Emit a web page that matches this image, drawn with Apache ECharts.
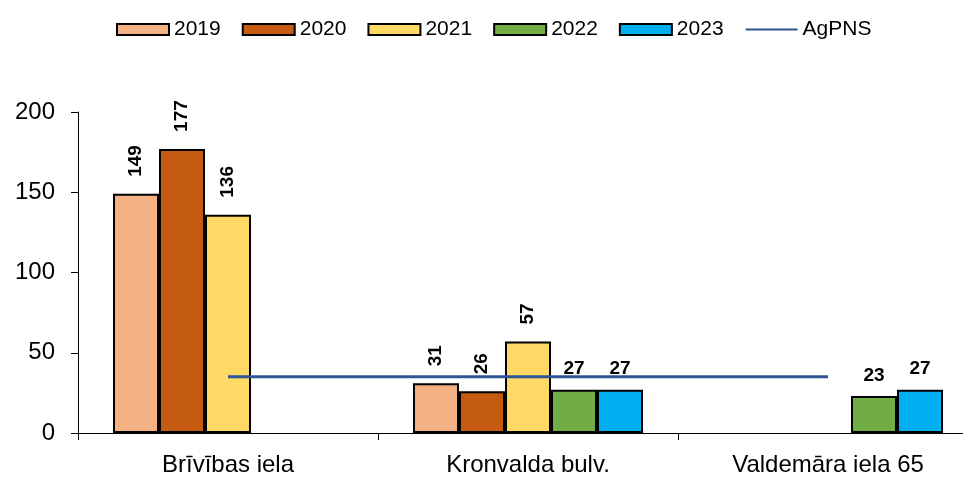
<!DOCTYPE html>
<html>
<head>
<meta charset="utf-8">
<script src="https://cdn.jsdelivr.net/npm/echarts@6/dist/echarts.min.js"></script>
<style>
  html, body { margin: 0; padding: 0; background: #fff; overflow: hidden; }
  /* the original plot area runs a little past the right edge, so the chart is wider than the window */
  #chart { width: 978px; height: 477px; }
</style>
</head>
<body>
<div id="chart"></div>
<script>
var categories = ["Brīvības iela", "Kronvalda bulv.", "Valdemāra iela 65"];
var y2019 = [149, 31, null];
var y2020 = [177, 26, null];
var y2021 = [136, 57, null];
var y2022 = [null, 27, 23];
var y2023 = [null, 27, 27];
var agpns = [35, 35, 35];
var yTicks = { min: 0, max: 200, interval: 50 };

var font = "Liberation Sans, Arial, sans-serif";

// rotated labels for the first three years, flat ones for the last two
function barSeries(name, data, color, rotated) {
  var label = {
    show: true,
    position: "top",
    fontFamily: font,
    fontSize: 19,
    fontWeight: "bold",
    color: "#000"
  };
  if (rotated) {
    label.rotate = 90;
    label.align = "left";
    label.verticalAlign = "middle";
    label.distance = 17;
  } else {
    label.distance = 11;
  }
  return {
    name: name,
    type: "bar",
    data: data,
    barWidth: 46,
    barGap: "0%",
    itemStyle: { color: color, borderColor: "#000", borderWidth: 2 },
    label: label
  };
}

var chart = echarts.init(document.getElementById("chart"));
var option = {
  animation: false,
  textStyle: { fontFamily: font },
  legend: {
    left: 111,
    top: 14,
    itemWidth: 52,
    itemHeight: 11,
    itemGap: 21,
    textStyle: { fontSize: 21, color: "#000", fontFamily: font },
    data: [
      { name: "2019", icon: "rect" },
      { name: "2020", icon: "rect" },
      { name: "2021", icon: "rect" },
      { name: "2022", icon: "rect" },
      { name: "2023", icon: "rect" },
      { name: "AgPNS", itemStyle: { opacity: 0 } }
    ]
  },
  grid: { left: 78, top: 112, right: 0, bottom: 44 },
  xAxis: {
    type: "category",
    data: categories,
    axisLine: { lineStyle: { color: "#000", width: 1 } },
    axisTick: { show: true, length: 7, lineStyle: { color: "#000" } },
    axisLabel: { fontSize: 24, color: "#000", margin: 20, fontFamily: font }
  },
  yAxis: {
    type: "value",
    min: yTicks.min,
    max: yTicks.max,
    interval: yTicks.interval,
    splitLine: { show: false },
    axisLine: { show: true, lineStyle: { color: "#000", width: 1 } },
    axisTick: { show: true, length: 7, lineStyle: { color: "#000" } },
    axisLabel: { fontSize: 24, color: "#000", margin: 23, fontFamily: font }
  },
  series: [
    barSeries("2019", y2019, "#F4B183", true),
    barSeries("2020", y2020, "#C55A11", true),
    barSeries("2021", y2021, "#FFD966", true),
    barSeries("2022", y2022, "#70AD47", false),
    barSeries("2023", y2023, "#00B0F0", false),
    {
      name: "AgPNS",
      type: "line",
      data: agpns,
      symbol: "none",
      z: 5,
      lineStyle: { color: "#2F5597", width: 3 },
      itemStyle: { color: "#2F5597" }
    }
  ]
};
chart.setOption(option);
</script>
</body>
</html>
